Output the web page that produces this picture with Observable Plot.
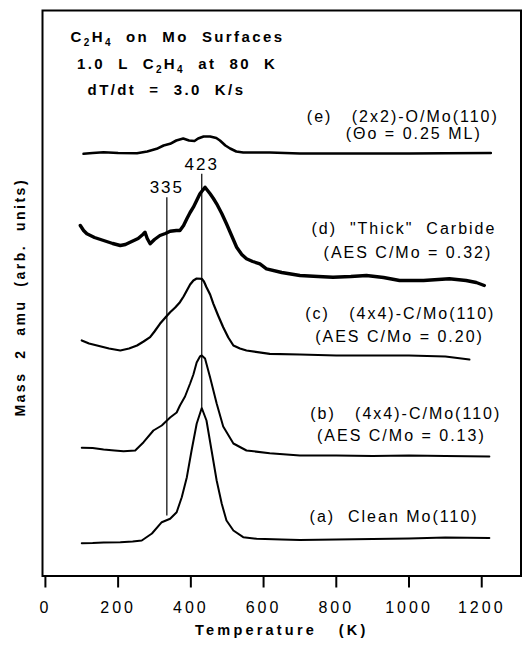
<!DOCTYPE html>
<html><head><meta charset="utf-8">
<script src="https://cdn.jsdelivr.net/npm/d3@7"></script>
<script src="https://cdn.jsdelivr.net/npm/@observablehq/plot@0.6"></script>
<style>
body{margin:0;background:#fff;}
svg text{white-space:pre;}
g[aria-description="title"] text{letter-spacing:2.4px;}
g[aria-description="curve-labels"] text{letter-spacing:2px;}
g[aria-label="x-axis tick label"] text{letter-spacing:3px;}
g[aria-description="marker-labels"] text{letter-spacing:2px;}
g[aria-description="xlabel"] text{letter-spacing:3.2px;}
g[aria-description="ylabel"] text{letter-spacing:2.5px;}
</style></head><body><div id="chart"></div><script>
// Temperature (K) and Mass 2 signal (arb. units)
const T_a = [100,130,160,206,240,265,293,320,343,361,375,389,402,416,430,443,457,471,485,498,517,544,581,650,700,800,900,1000,1100,1221];
const S_a = [32.8,33,33.5,33.8,34.5,35.5,42.5,53.8,57.2,63.8,78.8,98.8,125.5,152.2,168,155.5,125.5,95.5,72.2,55.5,45.5,38.8,37.2,36.5,36,36.5,37,37.5,38.5,38];
const T_b = [100,130,160,190,215,247,270,297,320,343,361,370,384,398,407,416,425,430,439,453,471,489,517,553,617,700,800,900,1000,1100,1221];
const S_b = [128.2,128,126.5,125.5,124.8,125.5,133.8,145.5,150.5,158.5,163.5,170.5,179.5,192.5,201.5,213.5,219.5,220.5,217.5,198.5,172.5,149.5,132.5,125.5,122.8,120.5,120.5,120,120.5,120,119.5];
const T_c = [100,120,142,175,206,230,252,270,288,300,315,330,343,357,370,380,389,398,407,416,430,436,443,453,462,475,489,503,517,535,553,617,700,800,900,1000,1100,1166];
const S_c = [235.5,232.5,230.5,227.5,225.5,227.5,230.5,234.5,238.8,244.5,252.2,258.5,263.8,268.5,273.8,279.5,285.5,291.5,295.5,297.5,297.2,294.5,288.8,281.5,272.2,260.5,248.8,238.5,230.5,227.5,225.5,222.2,221.5,220.5,220.5,220.5,219.5,216.5];
const T_d = [96,105,114,135,160,185,206,220,233,255,268,274,280,288,300,315,330,343,360,370,380,389,398,407,416,425,432,439,446,453,462,471,485,498,512,526,540,553,570,590,608,650,700,750,791,840,883,930,974,1040,1111,1157,1185,1207];
const S_d = [350.5,345.5,342.2,338.5,335.5,332.5,330.5,331.5,333.8,337.5,341.5,343.8,337.5,332.2,336.5,340.5,342.5,344.8,345.5,345.5,350.5,357.2,363.5,368.8,375.5,382.2,385.5,388.8,385.5,382.2,377.5,372.2,362.5,352.2,340.5,328.8,321.5,317.2,314.5,312.2,307.2,303.5,300.5,299.5,298.8,299.5,300.5,298.5,295.5,295.5,297.2,295.5,293.5,290.5];
const T_e = [105,130,160,200,252,280,306,325,343,360,379,395,410,420,435,453,470,480,495,508,525,544,580,617,700,800,900,1000,1100,1225];
const S_e = [422.2,423,423.8,423,422.8,424.5,427.2,430.5,432.2,435.5,437.5,435.5,435,437.5,439.5,439.5,438,435.5,430.5,427.5,424.5,423.5,423.5,423.5,422.5,422.5,422.5,422.5,422.8,423];

const seriesNames = ["a","b","c","d","e"];
const seriesT = [T_a,T_b,T_c,T_d,T_e];
const seriesS = [S_a,S_b,S_c,S_d,S_e];
const seriesWidth = [2,2,2.2,3.4,2.6];

// Peak markers
const markerT = [334, 430];
const markerText = ["335", "423"];
const markerTop = [378.8, 402.2];
const markerBottom = [60.5, 168.8];
const markerLabelY = [388.8, 411.5];

// Curve labels
const labelText = ["(e)   (2x2)-O/Mo(110)","(Θo = 0.25 ML)","(d)  \"Thick\"  Carbide","(AES C/Mo = 0.32)","(c)   (4x4)-C/Mo(110)","(AES C/Mo = 0.20)","(b)   (4x4)-C/Mo(110)","(AES C/Mo = 0.13)","(a)  Clean Mo(110)"];
const labelT = [983,1013,986,997,976,974,991,979,959];
const labelS = [459.5,442,347.5,323,262.5,238.8,162.2,140.5,58.8];

// Title block
const titleText = ["C\u2082H\u2084  on  Mo  Surfaces","1.0  L  C\u2082H\u2084  at  80  K","dT/dt  =  3.0  K/s"];
const titleT = [69, 87, 116];
const titleS = [538.8, 512.2, 485.5];

const xTicks = [0,200,400,600,800,1000,1200];

const lines = seriesNames.flatMap((n,i) => seriesT[i].map((t,j) => ({series:n, T:t, S:seriesS[i][j]})));
const lineMarks = seriesNames.map((n,i) => Plot.line(lines.filter(d => d.series === n), {x:"T", y:"S", stroke:"black", strokeWidth:seriesWidth[i], strokeLinejoin:"round"}));
const markers = markerT.map((t,i) => ({T:t, text:markerText[i], top:markerTop[i], bottom:markerBottom[i], ly:markerLabelY[i]}));
const labels = labelText.map((t,i) => ({text:t, T:labelT[i], S:labelS[i]}));
const titles = titleText.map((t,i) => ({text:t, T:titleT[i], S:titleS[i]}));

const chart = Plot.plot({
  width: 522, height: 645,
  marginLeft: 42, marginTop: 10, marginBottom: 69.5, marginRight: 1.5,
  style: {background:"white", fontFamily:"'Liberation Sans', Arial, Helvetica, sans-serif", overflow:"visible"},
  x: {domain:[-8,1308], label:null},
  y: {domain:[0,565.5], axis:null},
  marks: [
    Plot.frame({stroke:"black", strokeWidth:2}),
    Plot.axisX({ticks:xTicks, tickSize:12, tickPadding:14, fontSize:16, strokeWidth:2, label:null, tickFormat:d => String(d), color:"black"}),
    ...lineMarks,
    Plot.link(markers, {x1:"T", x2:"T", y1:"bottom", y2:"top", stroke:"black", strokeWidth:1.2}),
    Plot.text(markers, {x:"T", y:"ly", text:"text", fontSize:17, fill:"black", ariaDescription:"marker-labels"}),
    Plot.text(labels, {x:"T", y:"S", text:"text", fontSize:16, fill:"black", ariaDescription:"curve-labels"}),
    Plot.text(titles, {x:"T", y:"S", text:"text", fontSize:15, fontWeight:"bold", textAnchor:"start", fill:"black", ariaDescription:"title"}),
    Plot.text(["Temperature   (K)"], {frameAnchor:"bottom", dy:54.5, lineAnchor:"middle", textAnchor:"middle", text:d => d, fontSize:14.5, fontWeight:"bold", fill:"black", ariaDescription:"xlabel"}),
    Plot.text(["Mass  2  amu  (arb.  units)"], {frameAnchor:"left", dx:-22, dy:4, rotate:-90, textAnchor:"middle", lineAnchor:"middle", text:d => d, fontSize:14, fontWeight:"bold", fill:"black", ariaDescription:"ylabel"})
  ]
});
// render the chemical subscripts of the title as lowered digits
d3.select(chart).selectAll('g[aria-description="title"] text').each(function() {
  const s = this.textContent;
  const sel = d3.select(this);
  sel.text(null);
  let lowered = false;
  s.split(/([\u2082\u2084])/).forEach(p => {
    if (!p) return;
    if (p === "\u2082" || p === "\u2084") {
      sel.append("tspan").attr("font-size", 10).attr("dy", lowered ? 0 : 4).text(p === "\u2082" ? "2" : "4");
      lowered = true;
    } else {
      sel.append("tspan").attr("dy", lowered ? -4 : 0).text(p);
      lowered = false;
    }
  });
});
document.getElementById("chart").append(chart);
</script></body></html>
